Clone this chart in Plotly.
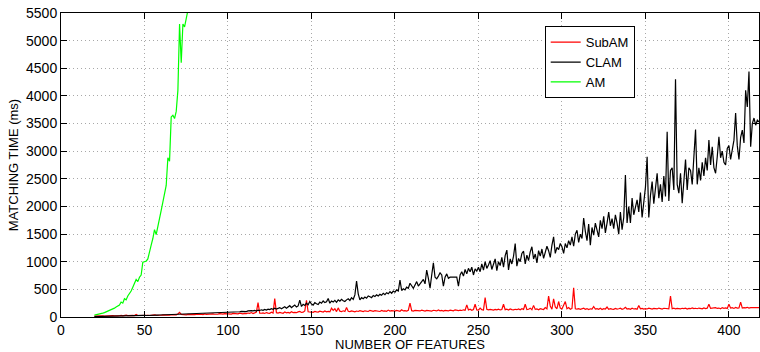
import plotly.graph_objects as go

# Number of features (x values) for SubAM and CLAM: every integer 20..418
features = list(range(20, 419))
# AM measured only for 20..77
am_features = list(range(20, 78))

clam_ms = [
    8, 9, 10, 9, 11, 10, 12, 11, 13, 12,
    14, 13, 15, 14, 16, 15, 17, 16, 18, 19,
    20, 19, 22, 21, 23, 22, 25, 24, 26, 27,
    28, 27, 30, 29, 31, 33, 32, 34, 35, 36,
    37, 36, 39, 38, 40, 42, 41, 43, 45, 44,
    46, 48, 47, 50, 49, 52, 51, 53, 55, 54,
    56, 58, 57, 60, 59, 62, 61, 64, 66, 65,
    68, 67, 70, 72, 69, 74, 73, 76, 78, 77,
    80, 84, 79, 88, 86, 92, 89, 95, 100, 97,
    104, 98, 110, 106, 115, 112, 120, 109, 125, 118,
    130, 122, 138, 127, 143, 134, 150, 140, 160, 145,
    155, 170, 150, 165, 185, 160, 175, 205, 170, 195,
    215, 180, 200, 305, 190, 230, 210, 250, 220, 280,
    235, 215, 260, 240, 225, 270, 250, 290, 260, 275,
    335, 250, 290, 270, 300, 265, 310, 285, 320, 295,
    280, 310, 330, 300, 350, 320, 400, 650, 420, 310,
    350, 330, 360, 340, 380, 365, 350, 390, 370, 400,
    380, 410, 395, 430, 405, 440, 420, 460, 430, 470,
    450, 490, 470, 670, 480, 510, 490, 540, 520, 610,
    560, 520, 580, 640, 560, 600, 620, 680, 600, 850,
    700, 520, 760, 980, 720, 690, 740, 800, 760, 560,
    720, 780, 700, 720, 720, 720, 720, 720, 560, 760,
    820, 740, 860, 780, 880, 820, 900, 760, 870, 830,
    900, 820, 960, 850, 1000, 880, 940, 1020, 860, 980,
    1050, 840, 1000, 930, 1080, 900, 1110, 1210, 850, 1050,
    960, 1100, 1330, 920, 1060, 1000, 1150, 1190, 960, 1120,
    1020, 1180, 1270, 1050, 1140, 980, 1200, 1100, 1230, 1060,
    1160, 1280, 1200, 1080, 1300, 1450, 1150, 1260, 1220, 1330,
    1270, 1150, 1330, 1250, 1380, 1300, 1450, 1280, 1500, 1570,
    1350, 1500, 1420, 1790, 1550, 1380, 1680, 1300, 1620, 1480,
    1700, 1560, 1450, 1750, 1600, 1820, 1520, 1700, 1900, 1650,
    1780, 1600, 1850, 1700, 1500, 1900, 1580, 1800, 2570, 1700,
    2000, 1700, 2150, 1850, 2000, 2120, 1900, 2250, 1800, 2100,
    2350, 2900, 1800, 2200, 2450, 2050, 2300, 2600, 2150, 2400,
    2080, 2550, 2180, 3350, 2100, 2650, 2700, 2300, 4300, 2400,
    2240, 2600, 2060, 2500, 2850, 2300, 2700, 2650, 2400, 2900,
    3390, 2400, 2700, 2470, 2800, 2550, 2880, 2650, 3200, 2750,
    3080, 2700, 2600, 2900, 3260, 2880, 3000, 2800, 2750, 3050,
    3100, 2850, 3000, 3200, 3690, 3100, 2850, 3250, 3380, 3150,
    4100, 3800, 4440, 3080, 3500, 3600, 3470, 3560, 3530,
]

subam_ms = [
    15, 18, 14, 20, 16, 22, 17, 19, 25, 18,
    20, 24, 19, 27, 21, 23, 30, 22, 26, 35,
    24, 28, 23, 30, 26, 45, 27, 29, 25, 32,
    28, 34, 30, 27, 36, 31, 40, 33, 29, 35,
    32, 38, 34, 42, 36, 33, 40, 37, 45, 39,
    55, 85, 48, 40, 44, 38, 46, 42, 50, 45,
    43, 48, 52, 46, 50, 44, 55, 49, 53, 47,
    51, 56, 50, 58, 53, 60, 55, 52, 62, 57,
    55, 60, 52, 65, 58, 62, 56, 70, 61, 58,
    64, 60, 72, 66, 80, 62, 75, 90, 260, 70,
    68, 75, 64, 80, 70, 66, 85, 72, 335, 78,
    70, 82, 74, 68, 90, 76, 84, 72, 95, 80,
    85, 78, 92, 100, 82, 88, 110, 300, 95, 86,
    90, 84, 100, 92, 88, 105, 95, 90, 110, 94,
    100, 92, 160, 120, 150, 98, 165, 105, 96, 112,
    100, 170, 104, 98, 110, 102, 95, 108, 100, 115,
    104, 98, 112, 106, 100, 120, 108, 102, 114, 105,
    110, 100, 118, 106, 112, 104, 125, 108, 114, 110,
    106, 118, 112, 104, 130, 110, 116, 108, 122, 250,
    115, 108, 120, 112, 118, 110, 124, 114, 106, 120,
    112, 118, 108, 122, 115, 110, 126, 112, 118, 108,
    120, 114, 110, 124, 116, 112, 130, 118, 114, 125,
    118, 130, 122, 220, 126, 140, 120, 135, 230, 128,
    124, 160, 132, 126, 350, 140, 128, 136, 130, 125,
    138, 130, 142, 128, 135, 230, 132, 140, 126, 145,
    134, 128, 140, 132, 145, 130, 150, 138, 230, 135,
    140, 160, 132, 210, 138, 145, 130, 150, 142, 136,
    170, 148, 380, 200, 140, 330, 180, 150, 280, 160,
    145, 200, 280, 150, 170, 140, 155, 530, 148, 142,
    150, 138, 145, 160, 140, 152, 135, 148, 142, 190,
    145, 150, 140, 158, 136, 150, 145, 180, 140, 152,
    144, 138, 155, 142, 150, 160, 140, 148, 175, 145,
    152, 140, 158, 145, 150, 140, 210, 148, 155, 142,
    150, 145, 160, 148, 142, 155, 150, 146, 162, 150,
    145, 158, 150, 152, 148, 380, 150, 160, 146, 155,
    150, 148, 158, 152, 160, 145, 155, 150, 165, 152,
    158, 150, 162, 155, 148, 165, 152, 160, 230, 155,
    160, 152, 168, 155, 162, 150, 170, 158, 165, 155,
    230, 160, 168, 155, 172, 160, 165, 270, 162, 170,
    165, 175, 160, 170, 168, 175, 162, 172, 168,
]

am_ms = [
    35, 40, 48, 55, 62, 70, 80, 92, 105, 118,
    130, 145, 160, 180, 200, 215, 270, 250, 330, 310,
    380, 420, 470, 540, 600, 680, 640, 720, 760, 990,
    1000, 1010, 1050, 1200, 1300, 1420, 1580, 1490, 1620, 1780,
    1930, 2080, 2220, 2380, 2880, 2820, 3620, 3650, 3590, 3720,
    4100, 5300, 4600, 5300, 5250, 5380, 5550, 5800,
]

x_ticks = [0, 50, 100, 150, 200, 250, 300, 350, 400]
y_ticks = [0, 500, 1000, 1500, 2000, 2500, 3000, 3500, 4000, 4500, 5000, 5500]

FONT = "Liberation Sans, Arial, Helvetica, sans-serif"

fig = go.Figure()
fig.add_trace(go.Scatter(x=features, y=subam_ms, mode="lines", name="SubAM",
                         line=dict(color="#ff0000", width=1.2)))
fig.add_trace(go.Scatter(x=features, y=clam_ms, mode="lines", name="CLAM",
                         line=dict(color="#000000", width=1.2)))
fig.add_trace(go.Scatter(x=am_features, y=am_ms, mode="lines", name="AM",
                         line=dict(color="#00ff00", width=1.2)))

axis_common = dict(
    showline=True, linecolor="black", linewidth=1, mirror="ticks",
    ticks="inside", ticklen=6, tickcolor="black", tickwidth=1,
    showgrid=True, gridcolor="#a8a8a8", griddash="1px,3px", gridwidth=1,
    zeroline=False, tickfont=dict(family=FONT, size=14, color="black"),
)

fig.update_layout(
    width=760, height=352,
    margin=dict(l=61, r=1, t=13, b=35),
    paper_bgcolor="white", plot_bgcolor="white",
    font=dict(family=FONT, size=13, color="black"),
    showlegend=True,
    legend=dict(x=0.693, y=0.9565, xanchor="left", yanchor="top",
                bgcolor="white", bordercolor="black", borderwidth=1,
                font=dict(family=FONT, size=13), tracegroupgap=0,
                itemwidth=30),
    xaxis=dict(range=[0, 418], tickvals=x_ticks,
               title=dict(text="NUMBER OF FEATURES", standoff=2,
                          font=dict(family=FONT, size=13)),
               **axis_common),
    yaxis=dict(range=[0, 5500], tickvals=y_ticks,
               title=dict(text="MATCHING TIME (ms)", standoff=4,
                          font=dict(family=FONT, size=13)),
               **axis_common),
)

fig.write_html("out.html")
